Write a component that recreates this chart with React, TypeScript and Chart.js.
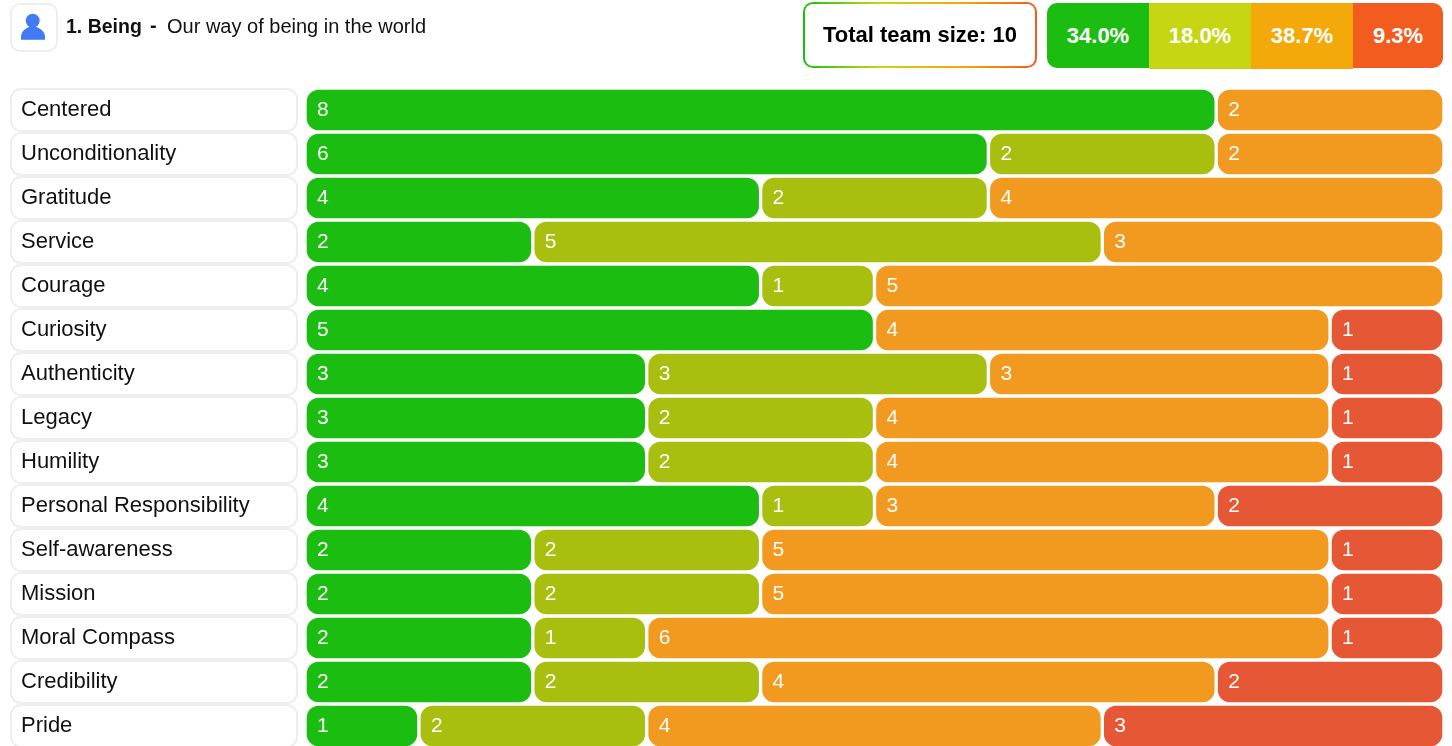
import React, { useEffect, useRef } from "react";
import { Chart, registerables } from "chart.js";

Chart.register(...registerables);

const categories = ["Centered","Unconditionality","Gratitude","Service","Courage","Curiosity","Authenticity","Legacy","Humility","Personal Responsibility","Self-awareness","Mission","Moral Compass","Credibility","Pride"];
const green = [8,6,4,2,4,5,3,3,3,4,2,2,2,2,1];
const lime = [0,2,2,5,1,0,3,2,2,1,2,2,1,2,2];
const orange = [2,2,4,3,5,4,3,4,4,3,5,5,6,4,4];
const red = [0,0,0,0,0,1,1,1,1,2,1,1,1,2,3];
const seriesColors = ["#1BBE10", "#A8BF10", "#F29A20", "#E65835"];
const summaryLabels = ["34.0%", "18.0%", "38.7%", "9.3%"];
const summaryColors = ["#1BBE10", "#C6D612", "#F4A90A", "#F25C1E"];
const teamSize = 10;

const FONT = '"Liberation Sans", Arial, sans-serif';

const series = [green, lime, orange, red];
const floats = series.map((vals, s) =>
  vals.map((v, i) => {
    if (!v) return null;
    let start = 0;
    for (let k = 0; k < s; k++) start += series[k][i];
    return [start, start + v];
  })
);

const labelBoxes = {
  id: "labelBoxes",
  beforeDraw(chart: any) {
    const { ctx, scales } = chart;
    const y = scales.y;
    ctx.save();
    categories.forEach((_, i) => {
      const c = y.getPixelForTick(i);
      ctx.beginPath();
      ctx.roundRect(11, c - 21, 286, 42, 10);
      ctx.fillStyle = "#ffffff";
      ctx.fill();
      ctx.lineWidth = 2;
      ctx.strokeStyle = "#EEEEEE";
      ctx.stroke();
    });
    ctx.restore();
  },
};

const valueLabels = {
  id: "valueLabels",
  afterDatasetsDraw(chart: any) {
    const { ctx } = chart;
    ctx.save();
    ctx.font = `21px ${FONT}`;
    ctx.fillStyle = "#ffffff";
    ctx.textAlign = "left";
    ctx.textBaseline = "middle";
    series.forEach((vals, s) => {
      chart.getDatasetMeta(s).data.forEach((bar: any, i: number) => {
        if (!vals[i]) return;
        ctx.fillText(String(vals[i]), bar.base + 12, bar.y);
      });
    });
    ctx.restore();
  },
};

export default function App() {
  const ref = useRef<HTMLCanvasElement>(null);
  useEffect(() => {
    document.body.style.margin = "0";
    const chart = new Chart(ref.current!, {
      type: "bar",
      data: {
        labels: categories,
        datasets: floats.map((data, s) => ({
          data: data as any,
          backgroundColor: seriesColors[s],
          borderColor: "#ffffff",
          borderWidth: 2,
          borderRadius: 14,
          borderSkipped: false,
          grouped: false,
          barPercentage: 1,
          categoryPercentage: 1,
        })),
      },
      options: {
        indexAxis: "y",
        animation: false,
        responsive: false,
        layout: { padding: { left: 21, right: 8, top: 88, bottom: 0 } },
        plugins: { legend: { display: false }, tooltip: { enabled: false } },
        scales: {
          x: { display: false, min: 0, max: 10 },
          y: {
            afterFit(scale: any) {
              scale.width = 284;
              scale.paddingTop = 0;
              scale.paddingBottom = 0;
            },
            grid: { display: false },
            border: { display: false },
            ticks: {
              crossAlign: "far",
              autoSkip: false,
              color: "#111111",
              font: { family: FONT, size: 22 },
            },
          },
        },
      },
      plugins: [labelBoxes, valueLabels],
    } as any);
    return () => chart.destroy();
  }, []);

  const segEdges = [1047, 1149, 1251, 1353, 1443];
  return (
    <div style={{ position: "relative", width: 1452, height: 746, overflow: "hidden", fontFamily: FONT, background: "#fff" }}>
      <canvas ref={ref} width={1452} height={748} style={{ position: "absolute", left: 0, top: 0, display: "block" }} />
      <div style={{ position: "absolute", left: 10, top: 3, width: 44, height: 45, border: "2px solid #EEEEEE", borderRadius: 10, background: "#fff" }}>
        <svg width="44" height="45" viewBox="0 0 44 45" style={{ display: "block" }}>
          <circle cx="20.7" cy="15.7" r="7" fill="#4279F5" />
          <path d="M9 34.7 L9 32 C9 26 15 21.5 20.7 21.5 C26.5 21.5 33 26 33 32 L33 34.7 Z" fill="#4279F5" />
        </svg>
      </div>
      <div style={{ position: "absolute", left: 66, top: 14, fontSize: 20, lineHeight: "24px", color: "#111", whiteSpace: "nowrap" }}>
        <b style={{ fontSize: 19.5 }}>1. Being</b>
        <span style={{ position: "absolute", left: 84, top: -1, fontWeight: 700 }}>-</span>
        <span style={{ position: "absolute", left: 101, top: 0 }}>Our way of being in the world</span>
      </div>
      <div style={{
        position: "absolute", left: 803, top: 2, width: 230, height: 62, border: "2px solid transparent", borderRadius: 10,
        background: "linear-gradient(#fff,#fff) padding-box, linear-gradient(90deg,#1BBE10,#C6D612,#F4A90A,#F25C1E) border-box",
        display: "flex", alignItems: "center", justifyContent: "center", fontWeight: 700, fontSize: 22, color: "#000", whiteSpace: "nowrap",
      }}>{`Total team size: ${teamSize}`}</div>
      {summaryLabels.map((t, i) => (
        <div key={t} style={{
          position: "absolute", left: segEdges[i], top: 3, width: segEdges[i + 1] - segEdges[i], height: i === 1 || i === 2 ? 66 : 65,
          background: summaryColors[i], color: "#fff", fontWeight: 700, fontSize: 22,
          display: "flex", alignItems: "center", justifyContent: "center",
          borderTopLeftRadius: i === 0 ? 10 : 0, borderBottomLeftRadius: i === 0 ? 10 : 0,
          borderTopRightRadius: i === 3 ? 10 : 0, borderBottomRightRadius: i === 3 ? 10 : 0,
        }}>{t}</div>
      ))}
    </div>
  );
}
